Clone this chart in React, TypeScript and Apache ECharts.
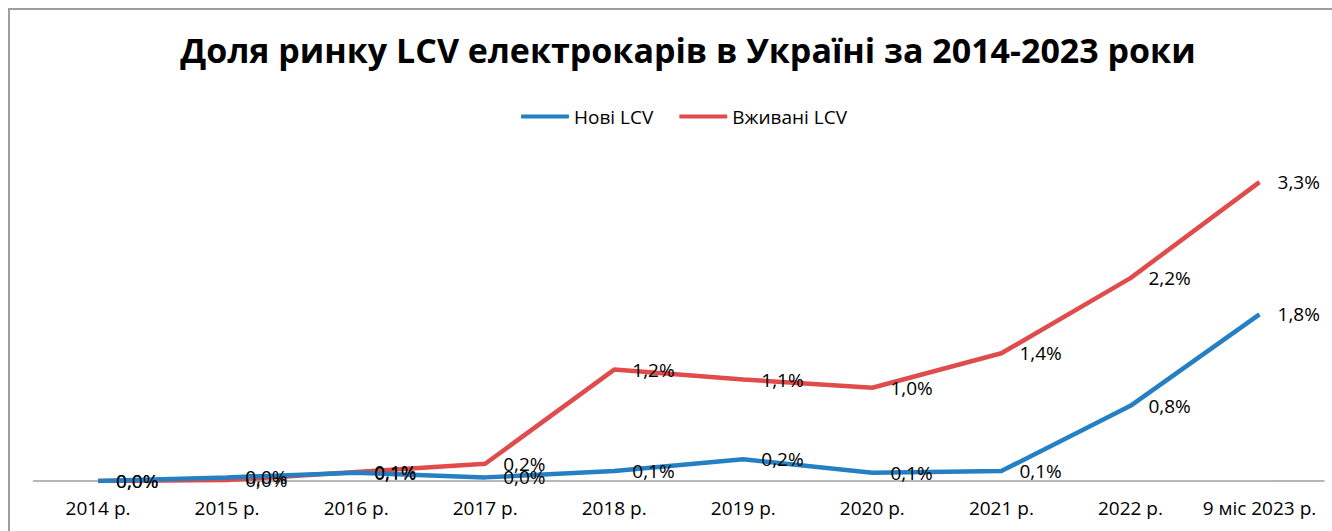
import React, { useEffect, useRef } from "react";
import * as echarts from "echarts";

const categories = ["2014 р.", "2015 р.", "2016 р.", "2017 р.", "2018 р.", "2019 р.", "2020 р.", "2021 р.", "2022 р.", "9 міс 2023 р."];
const newLCV = [0.0, 0.04, 0.09, 0.04, 0.11, 0.24, 0.09, 0.11, 0.83, 1.84];
const usedLCV = [0.0, 0.01, 0.1, 0.19, 1.23, 1.12, 1.03, 1.41, 2.24, 3.3];
const seriesNames = ["Нові LCV", "Вживані LCV"];
const titleText = "Доля ринку LCV електрокарів в Україні за 2014-2023 роки";

const BLUE = "#2480C3";
const RED = "#E04B4B";
const FONT = "'Open Sans', 'Noto Sans', sans-serif";

const fmt = (p: any) => (p.value as number).toFixed(1).replace(".", ",") + "%";

export default function App() {
  const ref = useRef<HTMLDivElement>(null);
  useEffect(() => {
    if (!ref.current) return;
    const chart = echarts.init(ref.current, undefined, { renderer: "svg" });
    const labelCfg = {
      show: true,
      position: "right",
      distance: 18,
      formatter: fmt,
      fontFamily: FONT,
      fontSize: 19,
      color: "#000",
    };
    chart.setOption({
      animation: false,
      backgroundColor: "#fff",
      title: {
        text: titleText,
        left: 683,
        textAlign: "center",
        top: 28,
        textStyle: { fontFamily: FONT, fontWeight: "bold", fontSize: 34, color: "#000" },
      },
      legend: {
        data: seriesNames,
        left: 516,
        top: 102,
        icon: "roundRect",
        itemWidth: 48,
        itemHeight: 4,
        itemGap: 26,
        textStyle: { fontFamily: FONT, fontSize: 19, color: "#000" },
      },
      graphic: [
        {
          type: "rect",
          shape: { x: 9, y: 9, width: 1400, height: 600 },
          style: { fill: "none", stroke: "#9e9e9e", lineWidth: 2 },
          silent: true,
        },
      ],
      grid: { left: 33.5, right: 8, top: 164, bottom: 50, containLabel: false },
      xAxis: {
        type: "category",
        data: categories,
        boundaryGap: true,
        axisLine: { lineStyle: { color: "#a0a0a0", width: 1.5 } },
        axisTick: { show: false },
        axisLabel: { fontFamily: FONT, fontSize: 19, color: "#000", margin: 17, interval: 0 },
      },
      yAxis: {
        type: "value",
        min: 0,
        max: 3.5,
        show: false,
        splitLine: { show: false },
      },
      series: [
        {
          name: seriesNames[0],
          type: "line",
          data: newLCV,
          showSymbol: true,
          symbol: "circle",
          symbolSize: 0.1,
          lineStyle: { color: BLUE, width: 4.5 },
          itemStyle: { color: BLUE },
          label: labelCfg,
          z: 3,
        },
        {
          name: seriesNames[1],
          type: "line",
          data: usedLCV,
          showSymbol: true,
          symbol: "circle",
          symbolSize: 0.1,
          lineStyle: { color: RED, width: 4.5 },
          itemStyle: { color: RED },
          label: labelCfg,
          z: 2,
        },
      ],
    });
    return () => chart.dispose();
  }, []);
  return (
    <div
      ref={ref}
      style={{ position: "absolute", left: 0, top: 0, width: 1332, height: 531 }}
    />
  );
}
